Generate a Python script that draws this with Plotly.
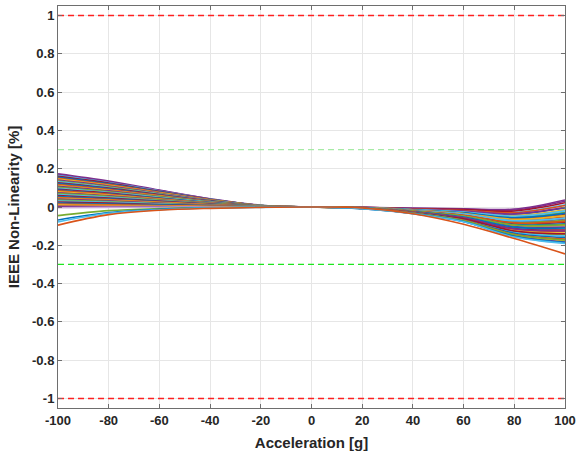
import plotly.graph_objects as go

# ---------------- data ----------------
accel = [-100, -80, -60, -40, -20, 0, 20, 40, 60, 80, 100]

curves = [
    [0.173, 0.135, 0.088, 0.043, 0.009, 0, -0.002, -0.006, -0.009, -0.011, 0.037],
    [0.168, 0.131, 0.086, 0.042, 0.008, 0, -0.002, -0.008, -0.011, -0.016, 0.030],
    [0.164, 0.128, 0.084, 0.041, 0.008, 0, -0.003, -0.011, -0.016, -0.027, 0.012],
    [0.160, 0.125, 0.082, 0.040, 0.008, 0, -0.002, -0.009, -0.013, -0.021, 0.022],
    [0.155, 0.121, 0.079, 0.039, 0.008, 0, -0.003, -0.013, -0.022, -0.038, -0.005],
    [0.150, 0.117, 0.077, 0.038, 0.008, 0, -0.003, -0.011, -0.018, -0.030, 0.008],
    [0.146, 0.114, 0.074, 0.037, 0.007, 0, -0.003, -0.014, -0.025, -0.045, -0.015],
    [0.141, 0.110, 0.072, 0.035, 0.007, 0, -0.003, -0.012, -0.021, -0.036, -0.002],
    [0.136, 0.106, 0.069, 0.034, 0.007, 0, -0.004, -0.015, -0.028, -0.053, -0.028],
    [0.131, 0.102, 0.067, 0.033, 0.007, 0, -0.004, -0.014, -0.026, -0.048, -0.020],
    [0.127, 0.099, 0.065, 0.032, 0.006, 0, -0.004, -0.017, -0.032, -0.061, -0.040],
    [0.122, 0.095, 0.062, 0.031, 0.006, 0, -0.004, -0.016, -0.030, -0.056, -0.033],
    [0.117, 0.091, 0.060, 0.029, 0.006, 0, -0.005, -0.018, -0.036, -0.068, -0.052],
    [0.112, 0.087, 0.057, 0.028, 0.006, 0, -0.004, -0.017, -0.034, -0.064, -0.045],
    [0.108, 0.084, 0.055, 0.027, 0.005, 0, -0.005, -0.019, -0.039, -0.075, -0.062],
    [0.103, 0.080, 0.053, 0.026, 0.005, 0, -0.005, -0.020, -0.041, -0.080, -0.070],
    [0.098, 0.076, 0.050, 0.025, 0.005, 0, -0.005, -0.019, -0.037, -0.072, -0.058],
    [0.093, 0.073, 0.047, 0.023, 0.005, 0, -0.005, -0.022, -0.044, -0.086, -0.080],
    [0.089, 0.069, 0.045, 0.022, 0.004, 0, -0.006, -0.023, -0.046, -0.091, -0.088],
    [0.084, 0.066, 0.043, 0.021, 0.004, 0, -0.005, -0.021, -0.043, -0.083, -0.075],
    [0.079, 0.062, 0.040, 0.020, 0.004, 0, -0.006, -0.024, -0.049, -0.097, -0.097],
    [0.074, 0.058, 0.038, 0.019, 0.004, 0, -0.006, -0.025, -0.052, -0.102, -0.105],
    [0.070, 0.055, 0.036, 0.018, 0.004, 0, -0.006, -0.023, -0.048, -0.094, -0.092],
    [0.065, 0.051, 0.033, 0.016, 0.003, 0, -0.006, -0.026, -0.054, -0.107, -0.113],
    [0.060, 0.047, 0.031, 0.015, 0.003, 0, -0.007, -0.026, -0.056, -0.112, -0.120],
    [0.055, 0.043, 0.028, 0.014, 0.003, 0, -0.006, -0.025, -0.053, -0.105, -0.110],
    [0.050, 0.039, 0.026, 0.013, 0.003, 0, -0.007, -0.027, -0.058, -0.117, -0.128],
    [0.045, 0.035, 0.023, 0.011, 0.002, 0, -0.007, -0.028, -0.061, -0.122, -0.136],
    [0.041, 0.032, 0.021, 0.010, 0.002, 0, -0.007, -0.027, -0.058, -0.115, -0.125],
    [0.036, 0.028, 0.018, 0.009, 0.002, 0, -0.007, -0.029, -0.064, -0.128, -0.145],
    [0.031, 0.024, 0.016, 0.008, 0.002, 0, -0.008, -0.030, -0.066, -0.132, -0.152],
    [0.026, 0.020, 0.013, 0.007, 0.001, 0, -0.007, -0.029, -0.062, -0.125, -0.140],
    [0.021, 0.016, 0.011, 0.005, 0.001, 0, -0.008, -0.031, -0.068, -0.137, -0.160],
    [0.016, 0.012, 0.008, 0.004, 0.001, 0, -0.008, -0.032, -0.070, -0.143, -0.168],
    [0.010, 0.008, 0.005, 0.003, 0.001, 0, -0.008, -0.033, -0.073, -0.148, -0.176],
    [0.004, 0.003, 0.002, 0.001, 0.000, 0, -0.008, -0.034, -0.075, -0.152, -0.183],
    [-0.004, -0.002, -0.001, 0.000, 0.000, 0, -0.009, -0.035, -0.076, -0.155, -0.188],
    [-0.045, -0.019, -0.008, -0.003, -0.001, 0, -0.008, -0.033, -0.072, -0.145, -0.172],
    [-0.068, -0.029, -0.012, -0.005, -0.001, 0, -0.009, -0.034, -0.076, -0.153, -0.185],
    [-0.078, -0.033, -0.014, -0.005, -0.002, 0, -0.009, -0.035, -0.077, -0.157, -0.190],
    [-0.095, -0.040, -0.017, -0.007, -0.002, 0, -0.005, -0.035, -0.090, -0.165, -0.245],
]

limit_levels = [1, -1]
warn_levels = [0.3, -0.3]
x_span = [-100, 100]

x_ticks = [-100, -80, -60, -40, -20, 0, 20, 40, 60, 80, 100]
x_ticktext = ["-100", "-80", "-60", "-40", "-20", "0", "20", "40", "60", "80", "100"]
y_ticks = [-1, -0.8, -0.6, -0.4, -0.2, 0, 0.2, 0.4, 0.6, 0.8, 1]
y_ticktext = ["-1", "-0.8", "-0.6", "-0.4", "-0.2", "0", "0.2", "0.4", "0.6", "0.8", "1"]

# ---------------- styles ----------------
matlab = ["#0072BD", "#D95319", "#EDB120", "#7E2F8E", "#77AC30", "#4DBEEE", "#A2142F"]
curve_colors = [matlab[(i + 3) % 7] for i in range(len(curves))]
curve_colors[0] = "#7E2F8E"
curve_colors[1] = "#7E2F8E"
curve_colors[36] = "#C9A6D6"
curve_colors[37] = "#77AC30"
curve_colors[38] = "#0072BD"
curve_colors[39] = "#4DBEEE"
curve_colors[40] = "#D95319"

fig = go.Figure()

for ys, col in zip(curves, curve_colors):
    fig.add_trace(go.Scatter(x=accel, y=ys, mode="lines",
                             line=dict(color=col, width=1.6, shape="spline", smoothing=1.0),
                             showlegend=False, hoverinfo="skip"))

for lv in limit_levels:
    fig.add_trace(go.Scatter(x=x_span, y=[lv, lv], mode="lines",
                             line=dict(color="#FF2020", width=1.4, dash="6px,4px"),
                             showlegend=False, hoverinfo="skip"))

warn_colors = ["#A6EBA6", "#1EE61E"]
for lv, col in zip(warn_levels, warn_colors):
    fig.add_trace(go.Scatter(x=x_span, y=[lv, lv], mode="lines",
                             line=dict(color=col, width=1.3, dash="6px,4px"),
                             showlegend=False, hoverinfo="skip"))

fam = "Liberation Sans, Arial, sans-serif"
axis_font = dict(family=fam, size=13, color="#262626", weight="bold")
title_font = dict(family=fam, size=15, color="#262626", weight="bold")

fig.update_xaxes(range=[-100, 100], tickvals=x_ticks, ticktext=x_ticktext,
                 showgrid=True, gridcolor="#E6E6E6", gridwidth=1, zeroline=False,
                 showline=True, linecolor="#6E6E6E", linewidth=1, mirror="ticks",
                 ticks="inside", ticklen=4, tickcolor="#6E6E6E",
                 tickfont=axis_font,
                 title=dict(text="Acceleration [g]", font=title_font, standoff=10))
fig.update_yaxes(range=[-1.05, 1.05], tickvals=y_ticks, ticktext=y_ticktext,
                 showgrid=True, gridcolor="#E6E6E6", gridwidth=1, zeroline=False,
                 showline=True, linecolor="#6E6E6E", linewidth=1, mirror="ticks",
                 ticks="inside", ticklen=4, tickcolor="#6E6E6E",
                 tickfont=axis_font,
                 title=dict(text="IEEE Non-Linearity [%]", font=title_font, standoff=8))

fig.update_layout(width=581, height=459, margin=dict(l=58, r=14, t=5, b=51),
                  plot_bgcolor="white", paper_bgcolor="white")

fig.write_html("out.html", config={"displayModeBar": False},
               post_script="document.body.style.margin='0';document.body.style.overflow='hidden';")
